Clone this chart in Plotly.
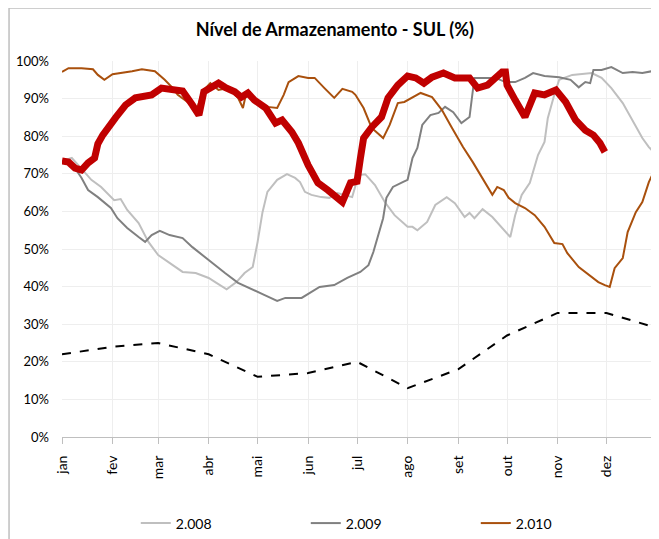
import plotly.graph_objects as go

# Month labels (x axis = day of year, 0 = 1 Jan)
month_labels = ["jan", "fev", "mar", "abr", "mai", "jun", "jul", "ago", "set", "out", "nov", "dez"]
month_starts = [0, 31, 59, 90, 120, 151, 181, 212, 243, 273, 304, 334]
y_ticks = list(range(0, 101, 10))
y_labels = [f"{v}%" for v in y_ticks]

# 2.008 series (light gray)
days_2008 = [0, 6, 10, 18, 24, 32, 36, 40, 47, 53, 59, 66, 74, 82, 90, 94, 101, 107, 112, 117, 120, 123, 126,
             132, 138, 143, 146, 149, 153, 159, 164, 169, 174, 178, 182, 186, 192, 198, 204, 212, 215, 218,
             224, 229, 236, 241, 247, 250, 253, 258, 264, 270, 275, 278, 282, 287, 292, 296, 298, 302, 305,
             313, 325, 331, 337, 344, 350, 356, 360, 363]
vals_2008 = [73.4, 74.2, 72.3, 68.4, 66.5, 63.0, 63.3, 60.4, 56.9, 51.9, 48.4, 46.3, 43.9, 43.6, 42.3, 41.2,
             39.3, 41.2, 43.6, 45.2, 51.9, 59.8, 65.2, 68.4, 69.9, 68.9, 67.8, 65.2, 64.4, 63.8, 63.6, 64.9,
             64.4, 63.8, 69.7, 69.9, 67.0, 62.5, 59.0, 55.9, 55.9, 55.0, 57.2, 61.7, 63.8, 62.2, 58.5, 59.6,
             58.2, 60.6, 58.5, 55.6, 53.2, 59.0, 64.4, 67.6, 75.0, 78.5, 84.8, 91.0, 95.0, 96.3, 96.8, 95.5,
             92.8, 88.8, 84.3, 79.5, 77.1, 75.8]

# 2.009 series (dark gray)
days_2009 = [0, 8, 12, 16, 22, 30, 34, 40, 47, 51, 55, 60, 66, 74, 80, 86, 94, 100, 108, 117, 124, 132, 137,
             147, 153, 158, 167, 175, 183, 188, 191, 194, 197, 199, 203, 209, 212, 215, 218, 221, 226, 231,
             235, 240, 245, 250, 253, 258, 266, 272, 278, 284, 289, 296, 305, 312, 317, 321, 324, 326, 331,
             337, 344, 350, 356, 362, 365]
vals_2009 = [73.4, 71.5, 68.9, 65.7, 63.8, 60.9, 58.2, 55.6, 53.2, 51.9, 53.7, 54.8, 53.7, 52.9, 50.5, 48.4,
             45.7, 43.6, 41.0, 39.1, 37.8, 36.2, 37.0, 37.0, 38.6, 39.9, 40.4, 42.3, 43.9, 45.7, 49.2, 53.7,
             58.2, 63.6, 66.5, 67.8, 68.4, 74.2, 76.9, 83.0, 85.6, 86.2, 87.8, 86.4, 83.5, 85.1, 95.5, 95.5,
             95.5, 94.4, 94.4, 95.5, 96.8, 96.0, 95.7, 95.0, 93.0, 94.4, 94.1, 97.6, 97.6, 98.4, 96.8, 97.1,
             96.8, 97.3, 97.1]

# 2.010 series (brown)
days_2010 = [0, 4, 12, 19, 22, 26, 31, 37, 43, 49, 57, 63, 68, 71, 77, 83, 86, 91, 96, 102, 108, 111, 113,
             123, 126, 132, 136, 139, 145, 151, 155, 161, 167, 172, 178, 180, 183, 185, 190, 197, 201, 206,
             210, 215, 220, 227, 233, 239, 246, 252, 258, 264, 267, 271, 274, 278, 284, 290, 296, 302, 307,
             310, 317, 323, 329, 333, 336, 339, 344, 347, 352, 356, 360, 364]
vals_2010 = [97.1, 98.1, 98.1, 97.8, 96.3, 95.0, 96.5, 96.8, 97.3, 97.8, 97.3, 95.0, 92.8, 91.0, 89.1, 87.5,
             91.8, 94.1, 92.3, 92.8, 90.2, 87.5, 91.5, 88.3, 87.8, 87.5, 91.0, 94.4, 96.0, 95.5, 95.5, 92.8,
             90.2, 92.6, 91.8, 91.0, 89.0, 87.5, 82.2, 79.5, 83.0, 88.8, 89.1, 90.4, 91.5, 90.4, 87.0, 82.4,
             77.1, 73.1, 68.9, 64.4, 66.5, 65.7, 63.6, 62.2, 60.9, 59.0, 55.9, 51.6, 51.3, 48.9, 45.2, 43.1,
             41.2, 40.4, 39.9, 44.9, 47.6, 54.5, 59.8, 62.5, 67.8, 71.5]

# Current year (thick red, not in legend)
days_cur = [0, 4, 8, 12, 16, 20, 22, 25, 33, 39, 45, 55, 61, 68, 74, 80, 84, 87, 91, 96, 100, 106, 110, 114,
            118, 125, 131, 135, 141, 145, 151, 157, 163, 172, 177, 181, 183, 185, 190, 196, 200, 206, 212,
            217, 222, 227, 234, 241, 250, 255, 261, 270, 272, 273, 278, 284, 290, 296, 303, 309, 315, 321,
            326, 330, 333]
vals_cur = [73.4, 73.1, 71.5, 71.0, 72.9, 74.2, 78.0, 80.3, 85.0, 88.3, 90.2, 91.0, 92.8, 92.3, 92.0, 88.3,
            85.6, 91.8, 93.0, 94.1, 93.0, 91.8, 90.4, 91.5, 89.6, 87.5, 83.5, 84.3, 81.1, 78.2, 72.3, 67.6,
            65.7, 62.5, 67.6, 68.0, 74.0, 79.5, 82.4, 85.1, 90.2, 93.6, 96.0, 95.5, 94.1, 95.7, 96.8, 95.5,
            95.5, 92.8, 93.6, 97.1, 97.1, 93.6, 89.6, 85.1, 91.5, 91.0, 92.3, 89.1, 84.3, 81.6, 80.3, 78.2,
            75.8]

# Reference curve (dashed black), values at month starts + year end
days_ref = month_starts + [365]
vals_ref = [22, 24, 25, 22, 16, 17, 20, 13, 18, 27, 33, 33, 29]

fig = go.Figure()
fig.add_trace(go.Scatter(x=days_2008, y=vals_2008, mode="lines", name="2.008",
                         line=dict(color="#BFBFBF", width=2)))
fig.add_trace(go.Scatter(x=days_2009, y=vals_2009, mode="lines", name="2.009",
                         line=dict(color="#808080", width=2)))
fig.add_trace(go.Scatter(x=days_2010, y=vals_2010, mode="lines", name="2.010",
                         line=dict(color="#A9500D", width=2)))
fig.add_trace(go.Scatter(x=days_ref, y=vals_ref, mode="lines", showlegend=False,
                         line=dict(color="#000000", width=2, dash="dash")))
fig.add_trace(go.Scatter(x=days_cur, y=vals_cur, mode="lines", showlegend=False,
                         line=dict(color="#C00000", width=7)))

fig.update_layout(
    width=651, height=531,
    margin=dict(l=54, r=2, t=53, b=102, autoexpand=False),
    paper_bgcolor="white", plot_bgcolor="white",
    font=dict(family="Lato, Open Sans, sans-serif", size=13, color="#000000"),
    title=dict(text="<b>Nível de Armazenamento - SUL (%)</b>", x=0.502, xanchor="center",
               xref="container", yref="container",
               y=0.960, yanchor="middle", font=dict(size=18, color="#000000")),
    showlegend=True,
    legend=dict(orientation="h", x=0.124, xanchor="left", y=-0.23, yanchor="middle",
                entrywidth=125, entrywidthmode="pixels", font=dict(size=14)),
    xaxis=dict(range=[0, 365], tickmode="array",
               tickvals=month_starts + [365], ticktext=month_labels + [""],
               tickangle=-90, ticks="outside", ticklen=6, tickcolor="#BFBFBF",
               tickfont=dict(size=14), ticklabelstandoff=6,
               showline=True, linecolor="#BFBFBF", linewidth=1, automargin=False,
               showgrid=True, gridcolor="#EEEEEE", zeroline=False),
    yaxis=dict(range=[0, 100], tickmode="array", tickvals=y_ticks, ticktext=y_labels,
               showgrid=True, gridcolor="#EEEEEE", zeroline=False, showline=False,
               automargin=False, ticklabelstandoff=12),
)

fig.add_shape(type="rect", xref="paper", yref="paper",
              x0=-0.089, x1=1.2, y0=-0.5, y1=1.141,
              line=dict(color="#BFBFBF", width=1.5), fillcolor="rgba(0,0,0,0)", layer="below")

fig.write_html("out.html")
